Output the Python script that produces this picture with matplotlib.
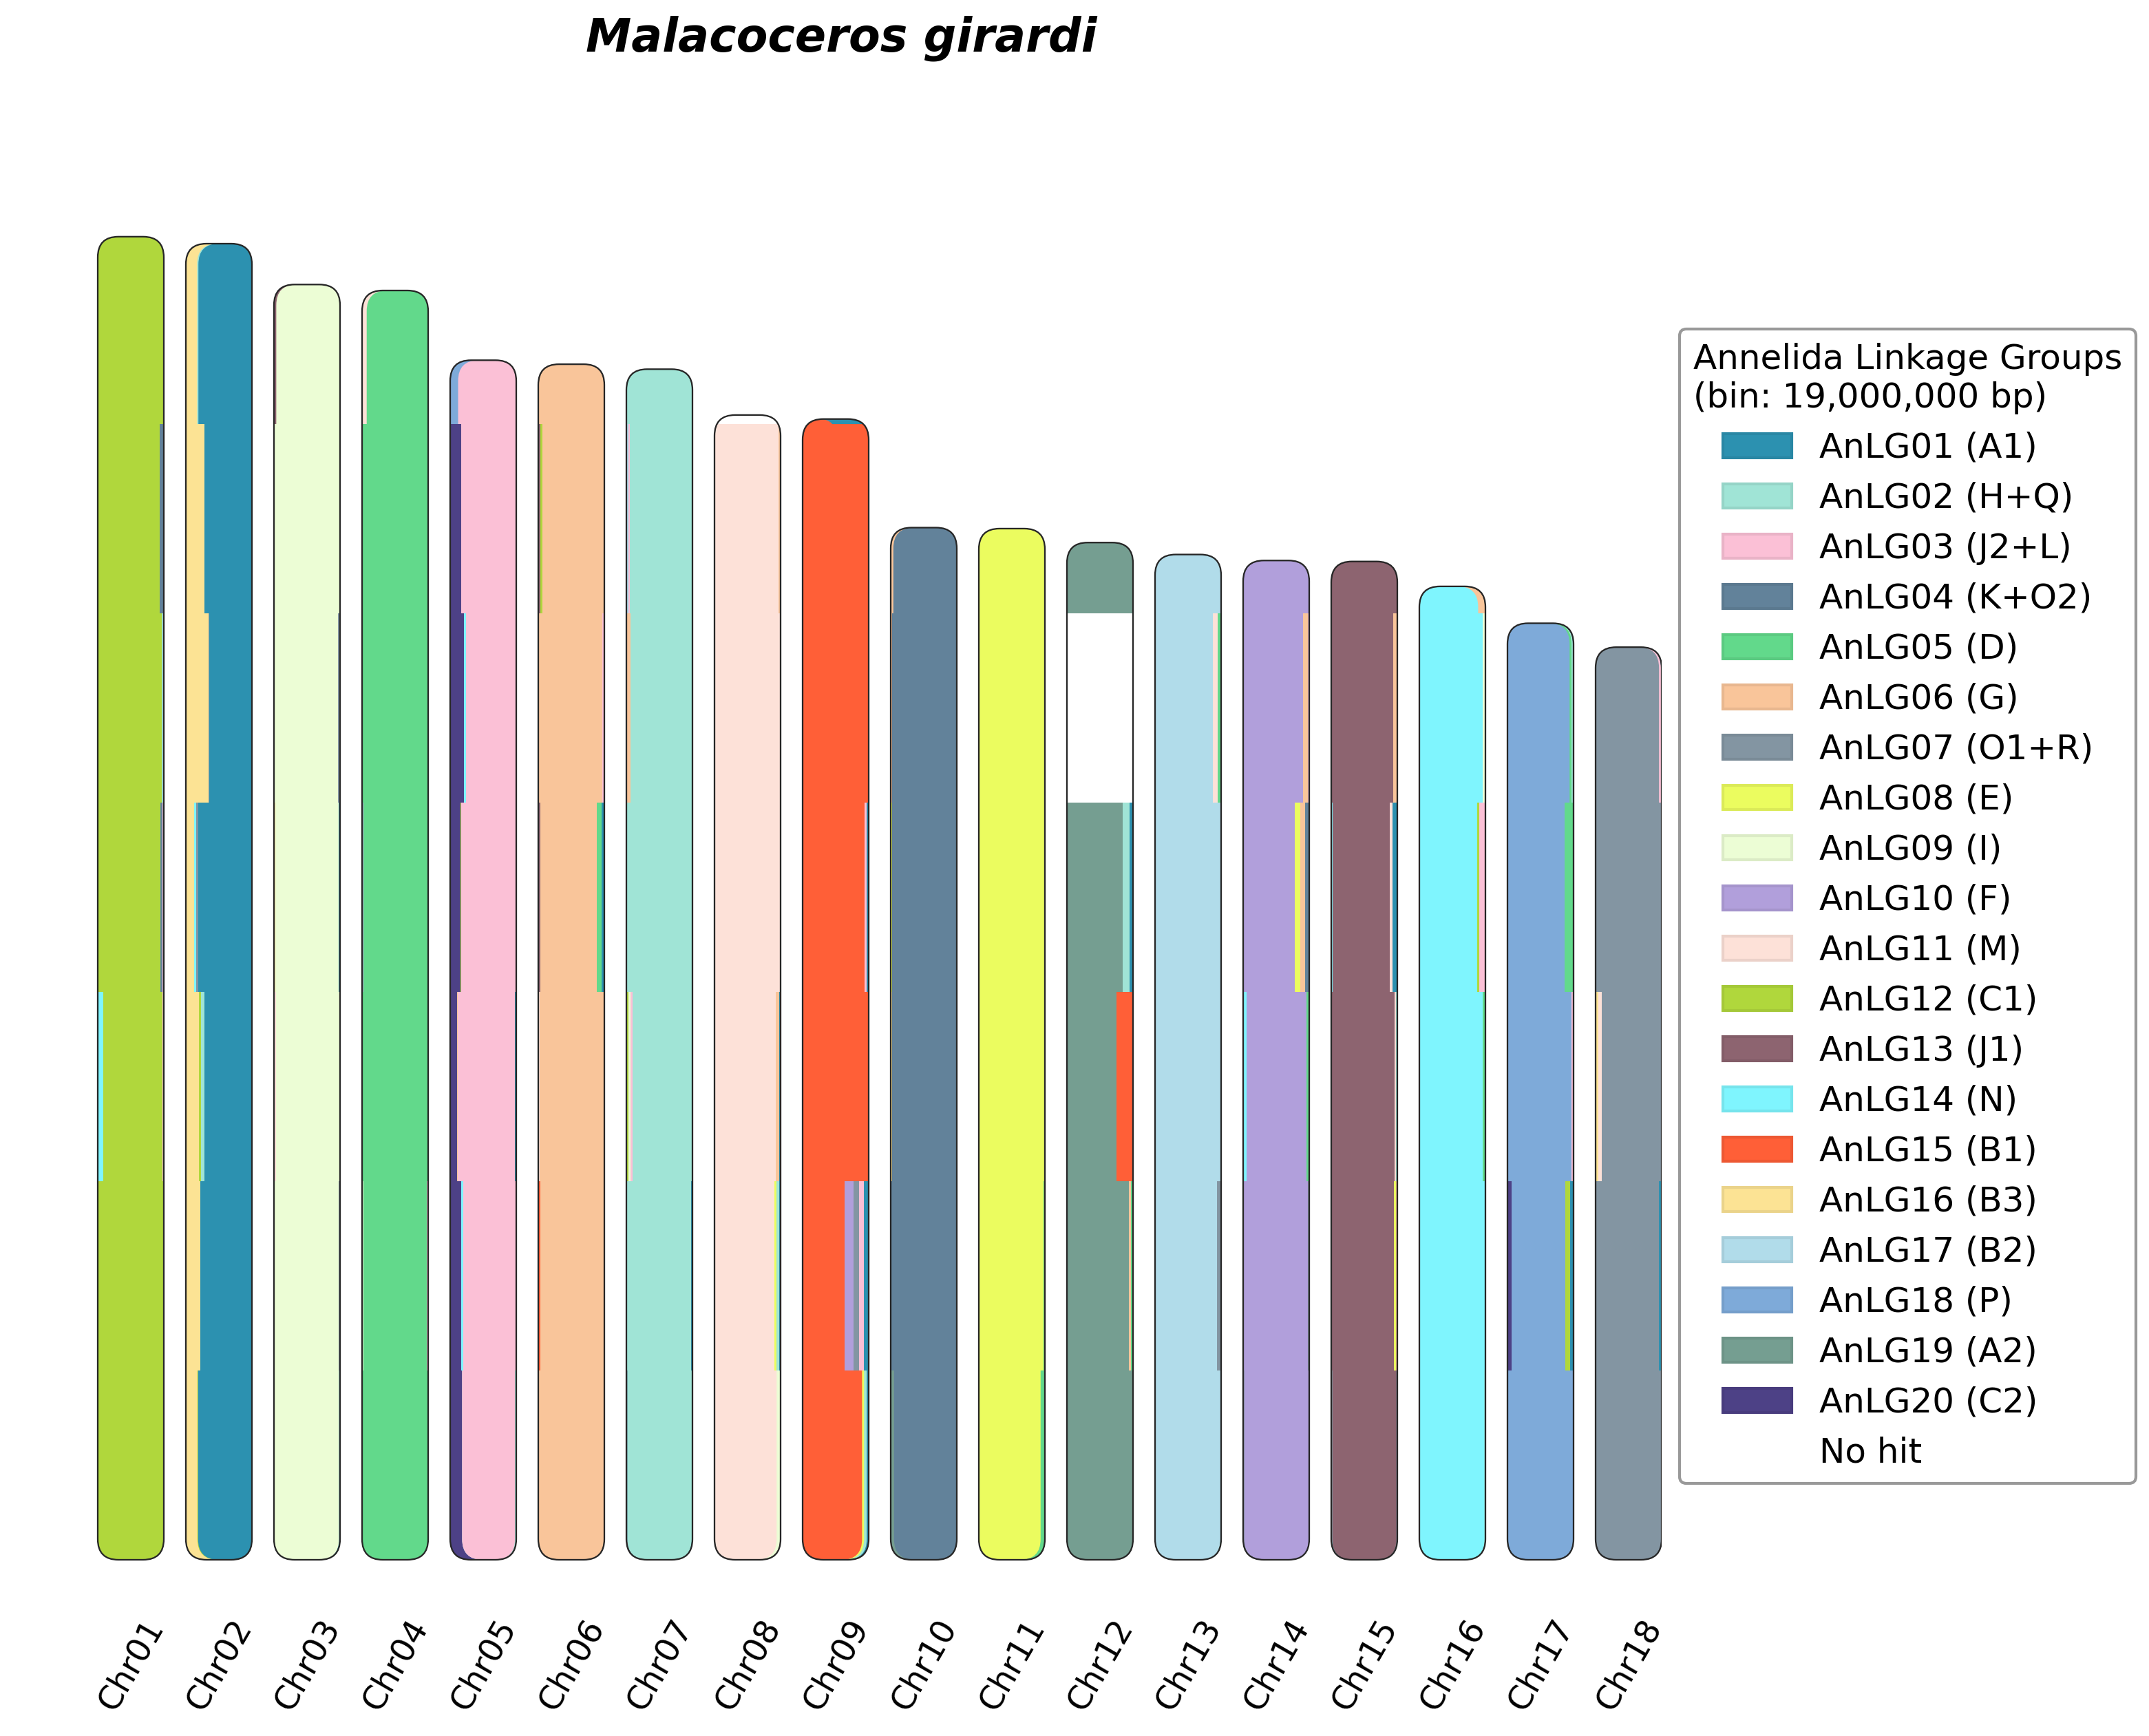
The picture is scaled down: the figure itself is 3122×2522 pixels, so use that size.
import matplotlib
matplotlib.use('Agg')
import matplotlib.pyplot as plt
from matplotlib.patches import FancyBboxPatch, Patch
from matplotlib.colors import to_rgb
from matplotlib.transforms import Bbox, TransformedBbox

BIN_SIZE_MB = 19

lg_labels = ['AnLG01 (A1)', 'AnLG02 (H+Q)', 'AnLG03 (J2+L)', 'AnLG04 (K+O2)',
             'AnLG05 (D)', 'AnLG06 (G)', 'AnLG07 (O1+R)', 'AnLG08 (E)',
             'AnLG09 (I)', 'AnLG10 (F)', 'AnLG11 (M)', 'AnLG12 (C1)',
             'AnLG13 (J1)', 'AnLG14 (N)', 'AnLG15 (B1)', 'AnLG16 (B3)',
             'AnLG17 (B2)', 'AnLG18 (P)', 'AnLG19 (A2)', 'AnLG20 (C2)']
lg_colors = ['#2c91b0', '#a0e4d6', '#fbc0d6', '#62829a', '#62d98b',
             '#f9c59a', '#8395a2', '#ebfc5f', '#ecfdd5', '#b19fdb',
             '#fde1d8', '#b0d73c', '#8d6470', '#7ff5fe', '#ff5f37',
             '#fce394', '#b1dcea', '#7eaad9', '#759e91', '#4d4186']
nohit_label = 'No hit'
nohit_color = '#ffffff'

chromosomes = ['Chr01', 'Chr02', 'Chr03', 'Chr04', 'Chr05', 'Chr06', 'Chr07',
               'Chr08', 'Chr09', 'Chr10', 'Chr11', 'Chr12', 'Chr13', 'Chr14',
               'Chr15', 'Chr16', 'Chr17', 'Chr18']
chrom_lengths_mb = [132.8, 132.1, 128.0, 127.4, 120.4, 120.0, 119.5, 114.9,
                    114.5, 103.6, 103.5, 102.1, 100.9, 100.3, 100.2, 97.7,
                    94.0, 91.6]

# per-bin composition (bottom bin first): {LG number: share %}, 0 = No hit
chr01_bins = [{12: 100}, {12: 100}, {14: 8, 12: 90, 3: 2},
              {12: 94.5, 4: 3, 3: 2.5}, {12: 97, 2: 3}, {12: 94, 4: 6},
              {12: 100}]
chr02_bins = [{16: 17.5, 12: 1, 1: 81.5}, {16: 22, 1: 78},
              {16: 20, 12: 3, 2: 5, 1: 72}, {16: 13, 14: 3, 7: 3, 1: 81},
              {16: 34, 7: 1.5, 1: 64.5}, {16: 28, 1: 72},
              {16: 17, 2: 2, 1: 81}]
chr03_bins = [{9: 98.5, 1: 1.5}, {9: 98, 7: 2}, {11: 3.5, 9: 96.5},
              {16: 2, 9: 96, 1: 2}, {9: 97, 7: 3}, {9: 100},
              {13: 3.5, 9: 96.5}]
chr04_bins = [{5: 100}, {9: 2, 5: 96, 3: 2}, {5: 100}, {10: 2.5, 5: 97.5},
              {5: 100}, {5: 100}, {11: 7, 5: 93}]
chr05_bins = [{20: 18, 3: 80, 2: 2}, {20: 16.5, 14: 3.5, 3: 80},
              {20: 10, 6: 1.5, 3: 86.5, 1: 2}, {20: 15.5, 12: 1.5, 3: 83},
              {20: 21, 14: 3, 3: 76}, {20: 17, 3: 83}, {18: 12, 3: 88}]
chr06_bins = [{6: 100}, {15: 3, 6: 97}, {11: 2, 6: 98},
              {13: 3, 6: 86, 5: 6.5, 1: 4.5}, {6: 97, 3: 3},
              {13: 3, 12: 3, 6: 94}, {6: 100}]
chr07_bins = [{13: 1.5, 2: 97.5, 1: 1}, {2: 98, 1: 2},
              {12: 3, 9: 3, 3: 3, 2: 91}, {2: 100}, {6: 6, 2: 94},
              {17: 3, 3: 2, 2: 95}, {2: 100}]
chr08_bins = [{11: 94, 9: 6}, {11: 91, 8: 3, 2: 3.5, 1: 2.5},
              {11: 93, 6: 4.5, 1: 2.5}, {11: 100}, {11: 100},
              {11: 96.5, 6: 3.5}, {0: 100}]
chr09_bins = [{15: 90, 8: 3, 2: 4, 1: 3},
              {15: 64, 10: 13.5, 7: 7.5, 3: 7.5, 1: 7.5}, {15: 100},
              {15: 94, 3: 3, 1: 3}, {15: 100}, {15: 100}, {15: 50, 1: 50}]
chr10_bins = [{19: 5, 4: 95}, {12: 1, 4: 97.5, 2: 1.5}, {16: 2.5, 4: 97.5},
              {8: 2.5, 4: 97.5}, {6: 2.5, 4: 97.5}, {6: 4, 4: 96}]
chr11_bins = [{8: 93.5, 5: 6.5}, {8: 97.5, 5: 2.5}, {8: 100},
              {14: 1.5, 8: 98.5}, {13: 1.5, 8: 98.5}, {8: 100}]
chr12_bins = [{19: 100}, {19: 94, 6: 3, 5: 3}, {19: 75, 15: 25},
              {19: 84, 2: 10.5, 1: 5.5}, {0: 100}, {19: 100}]
chr13_bins = [{17: 99, 5: 1}, {17: 94, 7: 6}, {17: 100}, {17: 98.5, 7: 1.5},
              {17: 87, 11: 7.5, 5: 5.5}, {17: 100}]
chr14_bins = [{19: 1.5, 10: 98.5}, {10: 98, 7: 2}, {14: 5, 10: 90.5, 5: 4.5},
              {10: 78.5, 8: 7.5, 6: 7.5, 4: 6.5}, {10: 91, 6: 7, 3: 2},
              {10: 100}]
chr15_bins = [{14: 1.5, 13: 97, 7: 1.5}, {13: 94.5, 8: 3, 6: 2.5},
              {13: 96, 11: 2, 2: 2}, {14: 2.5, 13: 86.5, 11: 4, 1: 7},
              {13: 94, 6: 6}, {13: 100}]
chr16_bins = [{14: 98.5, 2: 1.5}, {14: 100}, {14: 96, 5: 4},
              {14: 88, 12: 3, 3: 9}, {14: 95.5, 9: 3, 5: 1.5},
              {14: 89, 6: 11}]
chr17_bins = [{18: 100}, {20: 6, 18: 82, 12: 6.5, 1: 5.5}, {18: 97, 3: 3},
              {18: 86.5, 5: 13.5}, {18: 94, 5: 3, 2: 2, 1: 1}]
chr18_bins = [{7: 100}, {7: 96, 1: 4}, {16: 4, 11: 5, 7: 91}, {7: 100},
              {7: 96, 3: 3, 1: 1}]

all_bins = [chr01_bins, chr02_bins, chr03_bins, chr04_bins, chr05_bins,
            chr06_bins, chr07_bins, chr08_bins, chr09_bins, chr10_bins,
            chr11_bins, chr12_bins, chr13_bins, chr14_bins, chr15_bins,
            chr16_bins, chr17_bins, chr18_bins]

# ---------------------------------------------------------------- figure
W, H = 1561.0, 1261.0   # layout reference grid
fig = plt.figure(figsize=(3122 / 300, 2522 / 300), dpi=300)
ax = fig.add_axes([15 / W, 1 - 1165 / H, (1207 - 15) / W, (1165 - 100) / H])
ax.set_xlim(-1.25, 17.375)
ax.set_ylim(-(1165 - 1133) / 7.237, (1133 - 100) / 7.237)

bar_w = 0.75
RX = 0.235      # corner radius (x data units)
ASPECT = 8.85   # y radius / x radius in data units


def color_of(k):
    return nohit_color if k == 0 else lg_colors[k - 1]


def rounded_piece(xa, xb, ya, yb, color, clip_lo, clip_hi, outline):
    w = xb - xa
    r = min(RX, w / 2.0)
    p = FancyBboxPatch((xa, ya), w, yb - ya,
                       boxstyle='round,pad=0,rounding_size=%f' % r,
                       mutation_aspect=ASPECT, facecolor=color,
                       edgecolor='none', linewidth=0, zorder=2)
    ax.add_patch(p)
    p.set_clip_box(TransformedBbox(Bbox([[xa - 1, clip_lo], [xb + 1, clip_hi]]),
                                   ax.transData))
    p.set_clip_path(outline)


for i, (L, bins) in enumerate(zip(chrom_lengths_mb, all_bins)):
    x0 = i - bar_w / 2
    outline = FancyBboxPatch((x0, 0), bar_w, L,
                             boxstyle='round,pad=0,rounding_size=%f' % RX,
                             mutation_aspect=ASPECT, facecolor='none',
                             edgecolor='#262626', linewidth=0.55, zorder=3)
    ax.add_patch(outline)
    nb = len(bins)
    for b, comp in enumerate(bins):
        y0 = b * BIN_SIZE_MB
        y1 = min(y0 + BIN_SIZE_MB, L)
        total = float(sum(comp.values()))
        keys = sorted(comp, reverse=True)
        starts, ends = [], []
        left = x0
        for k in keys:
            w = bar_w * comp[k] / total
            starts.append(left)
            ends.append(left + w)
            left += w
        if b == 0 or b == nb - 1:
            # end bins: pieces nest towards the dominant group, rounded ends
            if b == nb - 1:
                ya, yb, lo, hi = y0 - 10, y1, y0, y1 + 1
            else:
                ya, yb, lo, hi = y0, y1 + 10, y0 - 1, y1
            d = max(range(len(keys)), key=lambda j: comp[keys[j]])
            for j in range(d):
                rounded_piece(starts[j], ends[d], ya, yb, color_of(keys[j]),
                              lo, hi, outline)
            for j in range(len(keys) - 1, d, -1):
                rounded_piece(starts[d], ends[j], ya, yb, color_of(keys[j]),
                              lo, hi, outline)
            rounded_piece(starts[d], ends[d], ya, yb, color_of(keys[d]),
                          lo, hi, outline)
        else:
            for k, s, e in zip(keys, starts, ends):
                bars = ax.bar(s, y1 - y0, width=e - s, bottom=y0, align='edge',
                              color=color_of(k), linewidth=0, zorder=2,
                              antialiased=False)
                for p in bars:
                    p.set_clip_path(outline)

ax.set_xticks(range(len(chromosomes)))
ax.set_xticklabels(chromosomes, rotation=60, fontsize=11.5)
ax.tick_params(axis='x', length=0, pad=3.5)
ax.set_yticks([])
for s in ax.spines.values():
    s.set_visible(False)

fig.text(611 / W, 1 - 28 / H, 'Malacoceros girardi', fontsize=16,
         fontweight='bold', fontstyle='italic', ha='center', va='center')

handles = []
for lab, c in zip(lg_labels, lg_colors):
    edge = tuple(v * 0.93 for v in to_rgb(c))
    handles.append(Patch(facecolor=c, edgecolor=edge, linewidth=1.0, label=lab))
handles.append(Patch(facecolor=nohit_color, edgecolor=nohit_color,
                     label=nohit_label))
fig.legend(handles=handles, loc='upper left',
           bbox_to_anchor=(1220 / W, 1 - 239 / H),
           bbox_transform=fig.transFigure, borderaxespad=0,
           title='Annelida Linkage Groups\n(bin: 19,000,000 bp)',
           fontsize=12, title_fontsize=12,
           edgecolor='#999999', framealpha=1)

fig.savefig('out.png', dpi=300)
